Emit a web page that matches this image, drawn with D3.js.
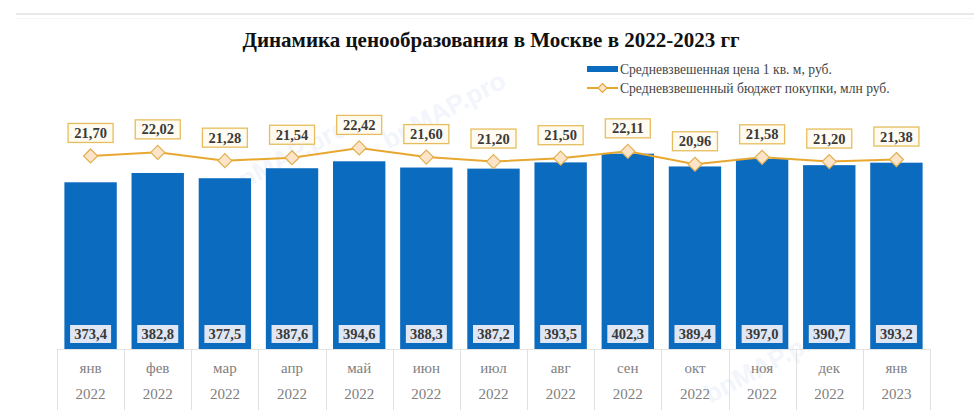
<!DOCTYPE html>
<html><head><meta charset="utf-8">
<script src="https://cdn.jsdelivr.net/npm/d3@7"></script>
<style>body{margin:0;background:#fff}svg{display:block}</style>
</head><body>
<svg id="c" width="974" height="410"></svg>
<script>
const months = ["янв","фев","мар","апр","май","июн","июл","авг","сен","окт","ноя","дек","янв"];
const years = ["2022","2022","2022","2022","2022","2022","2022","2022","2022","2022","2022","2022","2023"];
const price = [373.4,382.8,377.5,387.6,394.6,388.3,387.2,393.5,402.3,389.4,397.0,390.7,393.2];
const budget = [21.70,22.02,21.28,21.54,22.42,21.60,21.20,21.50,22.11,20.96,21.58,21.20,21.38];
const title = "Динамика ценообразования в Москве в 2022-2023 гг";
const legendBar = "Средневзвешенная цена 1 кв. м, руб.";
const legendLine = "Средневзвешенный бюджет покупки, млн руб.";

const svg = d3.select("#c");
const serif = "'Liberation Serif','DejaVu Serif',serif";
const fmt = (v,d) => v.toFixed(d).replace(".", ",");
const idx = d3.range(months.length);

const x = d3.scaleBand().domain(idx).range([57, 930]).paddingInner(0.22).paddingOuter(0.11);
const yBar = d3.scaleLinear().domain([205, 410]).range([349, 146.05]);
const yLine = d3.scaleLinear().domain([20, 23]).range([175.0, 141.4]);
const diamond = s => `M0,${-s}L${s},0L0,${s}L${-s},0Z`;

// top rule
svg.append("rect").attr("x",16).attr("y",13).attr("width",958).attr("height",2).attr("fill","#e9e9e9");
svg.append("rect").attr("x",16).attr("y",18).attr("width",958).attr("height",1).attr("fill","#f6f6f6");

// title
svg.append("text").attr("x",491).attr("y",47).attr("text-anchor","middle")
  .attr("font-family",serif).attr("font-weight","bold").attr("font-size",21).attr("fill","#111").text(title);

// watermarks
[[290,165],[448,118],[770,372]].forEach(([wx,wy])=>{
  svg.append("text").attr("transform",`translate(${wx},${wy}) rotate(-28)`).attr("text-anchor","middle")
    .attr("font-family","'Liberation Sans',sans-serif").attr("font-weight","bold").attr("font-size",26)
    .attr("fill","#c9d6ee").attr("opacity",0.22).text("bnMAP.pro");
});

// legend
svg.append("rect").attr("x",587).attr("y",66).attr("width",31).attr("height",6).attr("fill","#0b6bbf");
svg.append("text").attr("x",620).attr("y",73.5).attr("font-family",serif).attr("font-size",13.6).attr("fill","#444").text(legendBar);
svg.append("line").attr("x1",587).attr("x2",618).attr("y1",88).attr("y2",88).attr("stroke","#e8a830").attr("stroke-width",2);
svg.append("path").attr("d",diamond(4.5)).attr("transform","translate(602.5,88)")
  .attr("fill","#fde3c8").attr("stroke","#e3a83c").attr("stroke-width",1.2);
svg.append("text").attr("x",620).attr("y",93).attr("font-family",serif).attr("font-size",13.6).attr("fill","#444").text(legendLine);

// x axis table
const step = x.step();
const tableLeft = 57, tableRight = 930;
svg.append("line").attr("x1",tableLeft).attr("x2",tableRight).attr("y1",349.5).attr("y2",349.5).attr("stroke","#e4e4e4");
d3.range(months.length+1).forEach(i=>{
  const xx = Math.round(tableLeft + i*step) + 0.5;
  svg.append("line").attr("x1",xx).attr("x2",xx).attr("y1",349).attr("y2",410).attr("stroke","#e0e0e0");
});
svg.selectAll("text.m").data(idx).join("text").attr("class","m")
  .attr("x",i=>x(i)+x.bandwidth()/2).attr("y",373).attr("text-anchor","middle")
  .attr("font-family",serif).attr("font-size",15).attr("fill","#808080").text(i=>months[i]);
svg.selectAll("text.yr").data(idx).join("text").attr("class","yr")
  .attr("x",i=>x(i)+x.bandwidth()/2).attr("y",399).attr("text-anchor","middle")
  .attr("font-family",serif).attr("font-size",15).attr("fill","#808080").text(i=>years[i]);

// bars
svg.selectAll("rect.bar").data(idx).join("rect").attr("class","bar")
  .attr("x",i=>x(i)).attr("width",x.bandwidth())
  .attr("y",i=>yBar(price[i])).attr("height",i=>yBar.range()[0]-yBar(price[i]))
  .attr("fill","#0b6bbf");
// bar labels
const bl = svg.selectAll("g.bl").data(idx).join("g").attr("class","bl")
  .attr("transform",i=>`translate(${x(i)+x.bandwidth()/2},334)`);
bl.append("rect").attr("x",-20.5).attr("y",-9).attr("width",41).attr("height",18).attr("fill","#dfe6f4");
bl.append("text").attr("y",5).attr("text-anchor","middle").attr("font-family",serif).attr("font-weight","bold")
  .attr("font-size",14.5).attr("fill","#3a3a3a").text(i=>fmt(price[i],1));

// line
const line = d3.line().x(i=>x(i)+x.bandwidth()/2).y(i=>yLine(budget[i]));
svg.append("path").datum(idx).attr("d",line).attr("fill","none").attr("stroke","#e8a830").attr("stroke-width",2);
svg.selectAll("path.dm").data(idx).join("path").attr("class","dm")
  .attr("d",diamond(7))
  .attr("transform",i=>`translate(${x(i)+x.bandwidth()/2},${yLine(budget[i])})`)
  .attr("fill","#fde3c8").attr("stroke","#e0b050").attr("stroke-width",1.2);
const ll = svg.selectAll("g.ll").data(idx).join("g").attr("class","ll")
  .attr("transform",i=>`translate(${x(i)+x.bandwidth()/2},${yLine(budget[i])-23})`);
ll.append("rect").attr("x",-22.5).attr("y",-9.5).attr("width",45).attr("height",19)
  .attr("fill","#fffbf0").attr("stroke","#e6bd5e").attr("stroke-width",1.3);
ll.append("text").attr("y",5).attr("text-anchor","middle").attr("font-family",serif).attr("font-weight","bold")
  .attr("font-size",14.5).attr("fill","#3a3a3a").text(i=>fmt(budget[i],2));
</script>
</body></html>
